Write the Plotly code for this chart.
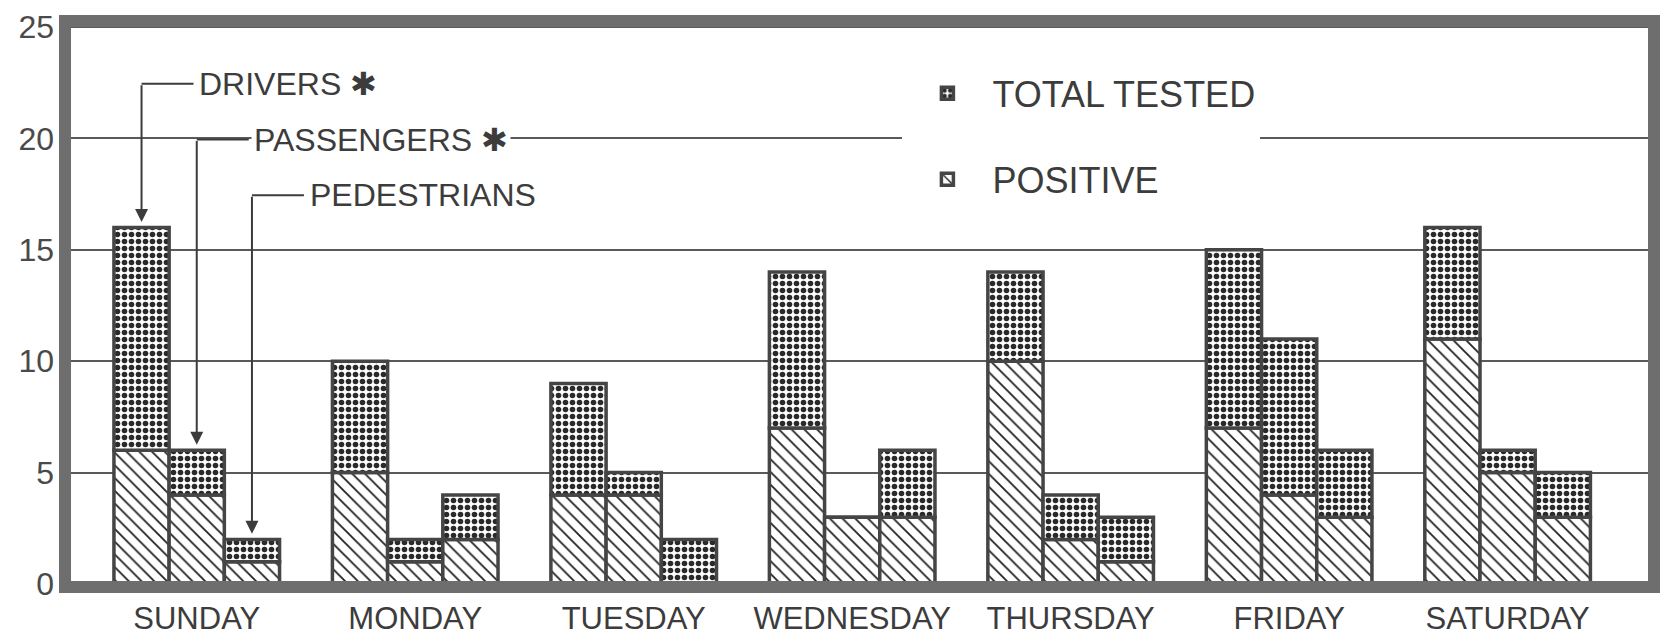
import plotly.graph_objects as go

# ---- data ----
days = ["SUNDAY", "MONDAY", "TUESDAY", "WEDNESDAY", "THURSDAY", "FRIDAY", "SATURDAY"]
roles = ["DRIVERS ✱", "PASSENGERS ✱", "PEDESTRIANS"]

drivers_total = [16, 10, 9, 14, 14, 15, 16]
drivers_positive = [6, 5, 4, 7, 10, 7, 11]
passengers_total = [6, 2, 5, 3, 4, 11, 6]
passengers_positive = [4, 1, 4, 3, 2, 4, 5]
pedestrians_total = [2, 4, 2, 6, 3, 6, 5]
pedestrians_positive = [1, 2, 0, 3, 1, 3, 3]

y_ticks = [0, 5, 10, 15, 20, 25]
legend_names = ["TOTAL TESTED", "POSITIVE"]

totals = [drivers_total, passengers_total, pedestrians_total]
positives = [drivers_positive, passengers_positive, pedestrians_positive]

# ---- styling ----
INK = "#3c3c3c"
FRAME = "#6e6e6e"
FONT = "Liberation Sans, Arial, sans-serif"
BARGAP = 0.242

stipple = dict(shape=".", fgcolor="#2a2a2a", bgcolor="white", size=7, solidity=0.5, fillmode="replace")
hatch = dict(shape="\\", fgcolor="#222222", bgcolor="white", size=9, solidity=0.2, fillmode="replace")
outline = dict(color="#454545", width=3.5)

fig = go.Figure()
for r in range(3):
    pos = positives[r]
    tot = totals[r]
    rest = [t - p for t, p in zip(tot, pos)]
    fig.add_trace(go.Bar(
        x=days, y=pos, offsetgroup=str(r),
        name=legend_names[1], legendgroup="pos", legendrank=2,
        showlegend=(r == 0),
        marker=dict(color="white", pattern=hatch, line=outline),
    ))
    fig.add_trace(go.Bar(
        x=days, y=rest, base=pos, offsetgroup=str(r),
        name=legend_names[0], legendgroup="tot", legendrank=1,
        showlegend=(r == 0),
        marker=dict(color="white", pattern=stipple, line=outline),
    ))

# ---- call-outs on the Sunday group ----
bar_w = (1 - BARGAP) / 3
label_y = [22.45, 19.95, 17.45]
for r in range(3):
    bx = 0 + (r - 1) * bar_w
    tx = bx + 0.25
    ly = label_y[r]
    fig.add_shape(type="line", xref="x", yref="y", x0=bx, x1=tx - 0.012, y0=ly, y1=ly,
                  line=dict(color=INK, width=2))
    fig.add_annotation(x=bx, y=totals[r][0] + 0.25, ax=bx, ay=ly, xref="x", yref="y",
                       axref="x", ayref="y", text="", showarrow=True, arrowhead=2,
                       arrowsize=1.3, arrowwidth=2, arrowcolor=INK, standoff=0)
    fig.add_annotation(x=tx, y=ly, xref="x", yref="y", text=roles[r], showarrow=False,
                       xanchor="left", yanchor="middle", bgcolor="white", borderpad=2,
                       font=dict(family=FONT, size=32, color=INK))

# ---- frame ----
fig.add_shape(type="rect", xref="paper", yref="paper", x0=0, x1=1, y0=0, y1=1,
              line=dict(color=FRAME, width=12), layer="above")

fig.update_layout(
    width=1660, height=634,
    margin=dict(l=57, r=14, t=13, b=55),
    paper_bgcolor="white", plot_bgcolor="white",
    barmode="group", bargap=BARGAP, bargroupgap=0,
    font=dict(family=FONT, color=INK),
    legend=dict(x=0.527, y=0.925, xanchor="left", yanchor="top",
                bgcolor="white", font=dict(family=FONT, size=36, color=INK),
                itemwidth=80, tracegroupgap=36, traceorder="grouped"),
    xaxis=dict(range=[-0.603, 6.67], showgrid=False, zeroline=False, showline=False,
               ticks="", ticklabelstandoff=10, automargin=False,
               tickfont=dict(family=FONT, size=31, color=INK)),
    yaxis=dict(range=[-0.135, 25.27], tickvals=y_ticks, ticktext=[str(v) for v in y_ticks],
               showgrid=True, gridcolor="#5a5a5a", gridwidth=2, zeroline=False,
               showline=False, ticks="", ticklabelstandoff=10, automargin=False,
               ticklabeloverflow="allow",
               tickfont=dict(family=FONT, size=32, color="#4a4a4a")),
)

fig.write_html("out.html")
